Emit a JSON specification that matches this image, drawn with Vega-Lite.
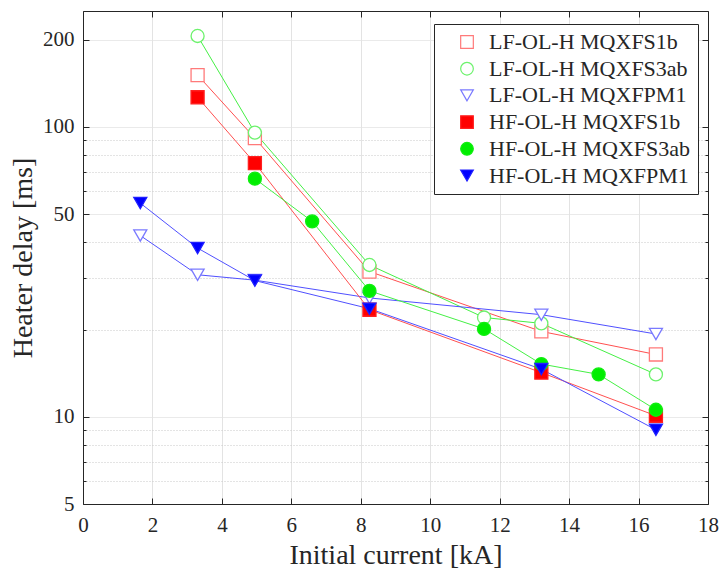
{
  "$schema": "https://vega.github.io/schema/vega-lite/v6.json",
  "width": 625,
  "height": 493,
  "autosize": {"type": "none"},
  "padding": {"left": 83, "top": 11, "right": 12, "bottom": 65},
  "background": "white",
  "config": {
    "view": {"stroke": null},
    "font": "Liberation Serif",
    "axis": {
      "labelFont": "Liberation Serif",
      "titleFont": "Liberation Serif",
      "labelColor": "#262626",
      "titleColor": "#262626",
      "domainColor": "#262626",
      "tickColor": "#262626",
      "titleFontWeight": "normal",
      "labelFontSize": 21,
      "titleFontSize": 28,
      "labelOverlap": false,
      "labelFlush": false
    },
    "legend": {
      "orient": "none",
      "legendX": 351,
      "legendY": 13,
      "fillColor": "white",
      "strokeColor": "#262626",
      "padding": 7,
      "labelFont": "Liberation Serif",
      "labelFontSize": 22,
      "labelColor": "#262626",
      "labelLimit": 400,
      "rowPadding": 4.7,
      "symbolSize": 160,
      "symbolOffset": 15,
      "labelOffset": 11,
      "symbolStrokeWidth": 1.2
    }
  },
  "data": {
    "values": [
      {"series": "LF-OL-H MQXFS1b", "current": 3.3, "delay": 151},
      {"series": "LF-OL-H MQXFS1b", "current": 4.95, "delay": 91.5},
      {"series": "LF-OL-H MQXFS1b", "current": 8.25, "delay": 31.7},
      {"series": "LF-OL-H MQXFS1b", "current": 13.2, "delay": 19.7},
      {"series": "LF-OL-H MQXFS1b", "current": 16.5, "delay": 16.4},
      {"series": "LF-OL-H MQXFS3ab", "current": 3.3, "delay": 206},
      {"series": "LF-OL-H MQXFS3ab", "current": 4.95, "delay": 95.6},
      {"series": "LF-OL-H MQXFS3ab", "current": 8.25, "delay": 33.4},
      {"series": "LF-OL-H MQXFS3ab", "current": 11.55, "delay": 22.0},
      {"series": "LF-OL-H MQXFS3ab", "current": 13.2, "delay": 21.0},
      {"series": "LF-OL-H MQXFS3ab", "current": 16.5, "delay": 14.0},
      {"series": "LF-OL-H MQXFPM1", "current": 1.65, "delay": 42.2},
      {"series": "LF-OL-H MQXFPM1", "current": 3.3, "delay": 30.9},
      {"series": "LF-OL-H MQXFPM1", "current": 4.95, "delay": 29.6},
      {"series": "LF-OL-H MQXFPM1", "current": 8.25, "delay": 25.7},
      {"series": "LF-OL-H MQXFPM1", "current": 13.2, "delay": 22.5},
      {"series": "LF-OL-H MQXFPM1", "current": 16.5, "delay": 19.3},
      {"series": "HF-OL-H MQXFS1b", "current": 3.3, "delay": 126.6},
      {"series": "HF-OL-H MQXFS1b", "current": 4.95, "delay": 75.0},
      {"series": "HF-OL-H MQXFS1b", "current": 8.25, "delay": 23.4},
      {"series": "HF-OL-H MQXFS1b", "current": 13.2, "delay": 14.2},
      {"series": "HF-OL-H MQXFS1b", "current": 16.5, "delay": 10.08},
      {"series": "HF-OL-H MQXFS3ab", "current": 4.95, "delay": 66.3},
      {"series": "HF-OL-H MQXFS3ab", "current": 6.6, "delay": 47.2},
      {"series": "HF-OL-H MQXFS3ab", "current": 8.25, "delay": 27.2},
      {"series": "HF-OL-H MQXFS3ab", "current": 11.55, "delay": 20.1},
      {"series": "HF-OL-H MQXFS3ab", "current": 13.2, "delay": 15.2},
      {"series": "HF-OL-H MQXFS3ab", "current": 14.85, "delay": 14.0},
      {"series": "HF-OL-H MQXFS3ab", "current": 16.5, "delay": 10.57},
      {"series": "HF-OL-H MQXFPM1", "current": 1.65, "delay": 54.6},
      {"series": "HF-OL-H MQXFPM1", "current": 3.3, "delay": 38.2},
      {"series": "HF-OL-H MQXFPM1", "current": 4.95, "delay": 29.5},
      {"series": "HF-OL-H MQXFPM1", "current": 8.25, "delay": 23.6},
      {"series": "HF-OL-H MQXFPM1", "current": 13.2, "delay": 14.6},
      {"series": "HF-OL-H MQXFPM1", "current": 16.5, "delay": 9.02}
    ]
  },
  "layer": [
    {
      "mark": {"type": "line", "strokeWidth": 1},
      "encoding": {
        "x": {
          "field": "current", "type": "quantitative",
          "scale": {"domain": [0, 18], "nice": false, "zero": false},
          "axis": {
            "orient": "bottom",
            "title": "Initial current [kA]",
            "values": [0, 2, 4, 6, 8, 10, 12, 14, 16, 18],
            "grid": true, "gridColor": "#e3e3e3", "gridWidth": 1,
            "tickSize": -6, "labelPadding": 16, "titlePadding": 6
          }
        },
        "y": {
          "field": "delay", "type": "quantitative",
          "scale": {"type": "log", "domain": [5, 251.2], "nice": false},
          "axis": {
            "orient": "left",
            "title": "Heater delay [ms]",
            "values": [5, 6, 7, 8, 9, 10, 20, 30, 40, 50, 60, 70, 80, 90, 100, 200],
            "labelExpr": "indexof([5, 10, 50, 100, 200], datum.value) >= 0 ? format(datum.value, 'd') : ''",
            "grid": true,
            "gridColor": {"condition": {"test": "indexof([5, 10, 50, 100, 200], datum.value) >= 0", "value": "#e3e3e3"}, "value": "#c8c8c8"},
            "gridDash": {"condition": {"test": "indexof([5, 10, 50, 100, 200], datum.value) >= 0", "value": [1, 0]}, "value": [1, 2]},
            "tickSize": {"condition": {"test": "indexof([5, 10, 50, 100, 200], datum.value) >= 0", "value": -6}, "value": -3},
            "labelPadding": 15, "titlePadding": 5
          }
        },
        "color": {
          "field": "series", "type": "nominal", "legend": null,
          "scale": {
            "domain": ["HF-OL-H MQXFPM1", "HF-OL-H MQXFS3ab", "HF-OL-H MQXFS1b", "LF-OL-H MQXFPM1", "LF-OL-H MQXFS3ab", "LF-OL-H MQXFS1b"],
            "range": ["#5050ff", "#45f045", "#ff5050", "#5050ff", "#45f045", "#ff5050"]
          }
        },
        "detail": {"field": "series"}
      }
    },
    {
      "mark": {"type": "point", "opacity": 1, "strokeWidth": 1.3},
      "encoding": {
        "x": {
          "field": "current", "type": "quantitative",
          "axis": {
            "orient": "top", "title": null, "labels": false, "grid": false,
            "values": [0, 2, 4, 6, 8, 10, 12, 14, 16, 18],
            "tickSize": -6
          }
        },
        "y": {
          "field": "delay", "type": "quantitative",
          "axis": {
            "orient": "right", "title": null, "labels": false, "grid": false,
            "values": [5, 6, 7, 8, 9, 10, 20, 30, 40, 50, 60, 70, 80, 90, 100, 200],
            "tickSize": {"condition": {"test": "indexof([5, 10, 50, 100, 200], datum.value) >= 0", "value": -6}, "value": -3}
          }
        },
        "shape": {
          "field": "series", "type": "nominal", "title": null,
          "scale": {
            "domain": ["LF-OL-H MQXFS1b", "LF-OL-H MQXFS3ab", "LF-OL-H MQXFPM1", "HF-OL-H MQXFS1b", "HF-OL-H MQXFS3ab", "HF-OL-H MQXFPM1"],
            "range": ["square", "circle", "triangle-down", "square", "circle", "triangle-down"]
          }
        },
        "fill": {
          "field": "series", "type": "nominal", "title": null,
          "scale": {
            "domain": ["LF-OL-H MQXFS1b", "LF-OL-H MQXFS3ab", "LF-OL-H MQXFPM1", "HF-OL-H MQXFS1b", "HF-OL-H MQXFS3ab", "HF-OL-H MQXFPM1"],
            "range": ["white", "white", "white", "#ff0000", "#00ee00", "#0000ff"]
          }
        },
        "stroke": {
          "field": "series", "type": "nominal", "title": null,
          "scale": {
            "domain": ["LF-OL-H MQXFS1b", "LF-OL-H MQXFS3ab", "LF-OL-H MQXFPM1", "HF-OL-H MQXFS1b", "HF-OL-H MQXFS3ab", "HF-OL-H MQXFPM1"],
            "range": ["#ff7a7a", "#6cf26c", "#7a7aff", "#ff2020", "#10ee10", "#2020ff"]
          }
        },
        "size": {"value": 170}
      }
    }
  ],
  "resolve": {"axis": {"x": "independent", "y": "independent"}}
}
